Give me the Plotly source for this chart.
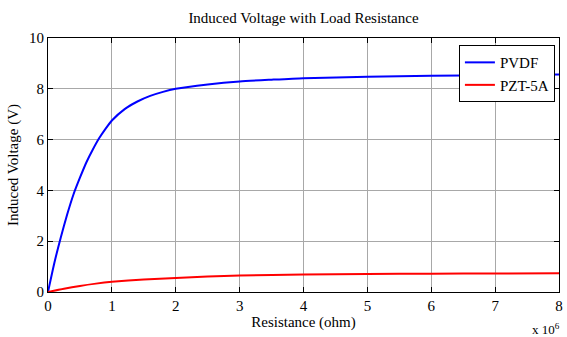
import plotly.graph_objects as go

# Resistance values (x 10^6 ohm)
pvdf_r = [0, 0.1, 0.2, 0.3, 0.4, 0.5, 0.6, 0.7, 0.8, 0.9, 1.0, 1.2, 1.4, 1.6, 1.8,
          2.0, 2.5, 3.0, 3.5, 4.0, 5.0, 6.0, 7.0, 8.0]
pvdf_v = [0, 1.15, 2.15, 3.05, 3.85, 4.5, 5.1, 5.6, 6.05, 6.42, 6.75, 7.2, 7.5, 7.72, 7.88,
          8.0, 8.17, 8.29, 8.36, 8.42, 8.47, 8.51, 8.54, 8.56]

pzt_r = [0, 0.25, 0.5, 0.75, 1.0, 1.5, 2.0, 2.5, 3.0, 4.0, 5.0, 6.0, 7.0, 8.0]
pzt_v = [0, 0.13, 0.24, 0.33, 0.40, 0.49, 0.55, 0.61, 0.65, 0.69, 0.71, 0.72, 0.73, 0.74]

x_ticks = [0, 1, 2, 3, 4, 5, 6, 7, 8]
y_ticks = [0, 2, 4, 6, 8, 10]

FONT = "Liberation Serif"

fig = go.Figure()
fig.add_trace(go.Scatter(x=pvdf_r, y=pvdf_v, mode="lines", name="PVDF",
                         line=dict(color="#0000ff", width=2, shape="spline", smoothing=0.6)))
fig.add_trace(go.Scatter(x=pzt_r, y=pzt_v, mode="lines", name="PZT-5A",
                         line=dict(color="#ff0000", width=2, shape="spline", smoothing=0.6)))

axis_common = dict(
    showline=True, linecolor="black", linewidth=1, mirror="ticks",
    ticks="inside", ticklen=5, tickcolor="black", tickwidth=1,
    showgrid=True, gridcolor="#a8a8a8", gridwidth=1,
    zeroline=False, tickfont=dict(family=FONT, size=15, color="black"),
)

fig.update_xaxes(range=[0, 8], tickvals=x_ticks, ticktext=[str(v) for v in x_ticks],
                 title=dict(text="Resistance (ohm)", font=dict(family=FONT, size=15, color="black"), standoff=0),
                 **axis_common)
fig.update_yaxes(range=[0, 10], tickvals=y_ticks, ticktext=[str(v) for v in y_ticks],
                 title=dict(text="Induced Voltage (V)", font=dict(family=FONT, size=15, color="black"), standoff=6),
                 **axis_common)

fig.add_annotation(text="x 10<sup>6</sup>", xref="paper", yref="paper", x=1.005, y=-0.105,
                   xanchor="right", yanchor="top", showarrow=False,
                   font=dict(family=FONT, size=13, color="black"))

fig.update_layout(
    width=567, height=337,
    margin=dict(l=48, r=4, t=38, b=45),
    paper_bgcolor="white", plot_bgcolor="white",
    title=dict(text="Induced Voltage with Load Resistance", x=0.5, xref="paper",
               y=1 - 18 / 337, yanchor="middle",
               font=dict(family=FONT, size=15, color="black")),
    legend=dict(x=0.992, y=0.972, xanchor="right", yanchor="top",
                bgcolor="white", bordercolor="black", borderwidth=1,
                font=dict(family=FONT, size=15, color="black"),
                tracegroupgap=0, itemwidth=30),
    showlegend=True,
)

fig.write_html("out.html")
